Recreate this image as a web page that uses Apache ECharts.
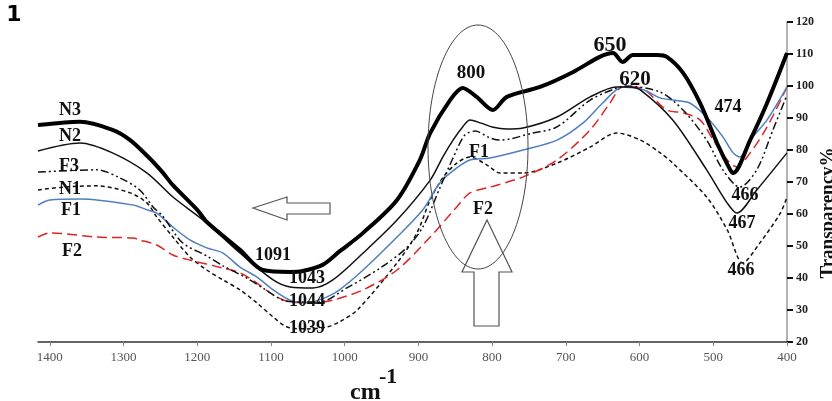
<!DOCTYPE html>
<html><head><meta charset="utf-8">
<script src="https://cdn.jsdelivr.net/npm/echarts@6/dist/echarts.min.js"></script>
<style>html,body{margin:0;padding:0;background:#fff}#c{width:832px;height:401px}</style>
</head><body><div id="c"></div>
<script>
// wavenumber ticks (cm-1) and transparency range
const xTicks = [1400,1300,1200,1100,1000,900,800,700,600,500,400];
const yTicks = [20,30,40,50,60,70,80,90,100,110,120];

// [wavenumber, transparency %]
const n3 = [[1416,87.8],[1380,88.6],[1359,88.8],[1315,86.3],[1291,83.1],[1265,77.5],[1247,73],[1233,69],[1200,61.3],[1187,57.5],[1142,48.8],[1111,42.5],[1074,41.9],[1057,42.2],[1030,44.1],[1007,48.3],[975,54.1],[929,64.4],[898,76.9],[884,85.3],[857,95.6],[840,99.4],[821,96.6],[799,92.5],[780,96.6],[735,99.7],[690,104.4],[654,109.1],[636,110.3],[623,107.5],[609,109.7],[576,109.7],[563,109.1],[541,104.1],[518,94.7],[495,82.2],[477,73.8],[473,72.8],[450,83.1],[427,94.7],[400,110.3]];
const n2 = [[1416,79.7],[1359,82.2],[1315,79.1],[1268,72.8],[1233,65.3],[1187,57.2],[1142,47.8],[1097,39.4],[1074,37.2],[1043,36.9],[1016,39.4],[975,47.8],[929,58.1],[884,70.6],[867,77.8],[853,83.1],[840,87.2],[830,89.4],[815,88.4],[800,87.2],[780,86.6],[758,86.9],[712,90.3],[667,96.6],[631,99.7],[613,99.7],[599,98.8],[555,89.4],[509,73.8],[481,63.4],[468,60.3],[441,67.5],[400,79.1]];
const f3 = [[1416,73.1],[1336,73.8],[1305,71.3],[1278,67.5],[1260,62.2],[1247,59.4],[1220,51],[1187,46.9],[1165,43.8],[1133,40],[1111,36.9],[1084,33.1],[1060,32.5],[1034,32.5],[997,36.9],[952,43.1],[916,49.4],[894,55.9],[871,68.1],[853,77.5],[837,84.7],[823,85.9],[803,83.8],[789,83.1],[745,85.3],[712,87.2],[667,95.6],[631,99.4],[620,100],[572,98.1],[541,92.5],[509,83.1],[487,73.8],[464,68.4],[441,73.8],[419,86.3],[400,97.2]];
const n1 = [[1416,67.5],[1382,68.4],[1336,68.8],[1291,66.6],[1268,63.4],[1255,59.1],[1233,52.8],[1210,46.6],[1187,42.5],[1165,39.4],[1142,36.3],[1119,32.2],[1097,27.8],[1078,24.7],[1051,24.1],[1024,24.7],[1007,26.3],[983,30],[929,44.7],[902,54.1],[884,64.4],[867,71.3],[848,75.9],[830,77.8],[807,75.3],[789,72.8],[758,72.8],[712,75.9],[667,80.9],[631,85.3],[599,83.1],[572,79.1],[555,75.9],[509,65.3],[481,55],[460,44.7],[437,50.9],[409,60.3],[400,65.3]];
const f1 = [[1416,62.8],[1400,64.4],[1359,64.7],[1287,62.8],[1268,61.3],[1255,60.3],[1233,55.9],[1210,51.9],[1187,49.4],[1165,47.8],[1142,43.4],[1119,40.3],[1097,36.3],[1074,33.1],[1051,32.2],[1024,34.1],[1007,36.3],[975,42.5],[929,52.8],[894,61.3],[871,69.7],[848,74.4],[830,76.9],[803,77.5],[758,80],[712,83.1],[677,88.4],[650,94.7],[623,99.7],[595,98.8],[572,96.3],[555,95.6],[532,94.7],[509,90.3],[487,84.1],[473,79.1],[464,77.8],[450,83.1],[427,89.4],[400,99.7]];
const f2 = [[1416,52.8],[1400,54.1],[1336,52.8],[1287,52.5],[1278,51.9],[1255,50.3],[1233,47.2],[1210,45.6],[1165,43.1],[1142,41.6],[1119,38.4],[1097,34.7],[1074,32.5],[1043,32.2],[1016,33.1],[975,36.3],[929,42.5],[884,52.8],[848,62.2],[830,66.6],[803,68.4],[758,71.6],[712,76.9],[667,86.3],[640,94.7],[623,99.7],[599,99.4],[563,92.5],[541,91.6],[518,89.4],[500,83.1],[481,76.9],[468,74.7],[450,79.1],[427,87.2],[400,99.7]];

const SERIF = '"Liberation Serif","Times New Roman",serif';
const chart = echarts.init(document.getElementById('c'), null, {renderer:'canvas'});

function line(name, data, color, width, type) {
  return {name, type:'line', data, showSymbol:false, smooth:0.3, silent:true,
    lineStyle:{color, width, type}};
}
function txt(text, x, y, size, extra) {
  return Object.assign({type:'text', x, y, z:100, style:{text, font:'bold '+size+'px '+SERIF, fill:'#111',
    align:'center', verticalAlign:'middle', textAlign:'center', textVerticalAlign:'middle'}}, extra||{});
}

chart.setOption({
  animation:false,
  backgroundColor:'#fff',
  grid:{left:38, right:45, top:22, bottom:59, containLabel:false},
  xAxis:{type:'value', inverse:true, min:400, max:1416,
    axisLine:{show:true, lineStyle:{color:'#333', width:1.5}},
    axisTick:{show:true, length:4, customValues:xTicks, lineStyle:{color:'#888'}},
    axisLabel:{customValues:xTicks, formatter:v => String(v), color:'#555', fontFamily:SERIF, fontSize:13, margin:9},
    splitLine:{show:false}},
  yAxis:{type:'value', position:'right', min:yTicks[0], max:yTicks[yTicks.length-1], interval:10,
    axisLine:{show:true, lineStyle:{color:'#999', width:1.5}},
    axisTick:{show:true, length:6, lineStyle:{color:'#111', width:2}},
    axisLabel:{color:'#222', fontFamily:SERIF, fontSize:12, fontWeight:'bold', margin:9},
    splitLine:{show:false}},
  series:[
    line('N1', n1, '#111', 1.5, [4,3]),
    line('F2', f2, '#e02424', 1.5, [10,5]),
    line('F1', f1, '#4f7fbf', 1.5, 'solid'),
    line('F3', f3, '#111', 1.5, [8,3,2,3,2,3]),
    line('N2', n2, '#111', 1.5, 'solid'),
    line('N3', n3, '#000', 4, 'solid')
  ],
  graphic:[
    {type:'ellipse', shape:{cx:478, cy:147, rx:50, ry:122}, z:90, style:{fill:'none', stroke:'#444', lineWidth:1}},
    {type:'polygon', shape:{points:[[487,220],[512,272],[499,272],[499,326],[474,326],[474,272],[462,272]]}, z:90,
      style:{fill:'none', stroke:'#555', lineWidth:1.2}},
    {type:'polygon', shape:{points:[[253,208],[287,197],[287,203],[330,203],[330,214],[287,214],[287,220]]}, z:90,
      style:{fill:'none', stroke:'#555', lineWidth:1.2}},
    {type:'text', x:14, y:15, z:100, style:{text:'1', font:'900 22px "DejaVu Sans",sans-serif', fill:'#000',
      align:'center', verticalAlign:'middle', textAlign:'center', textVerticalAlign:'middle'}},
    txt('N3', 70, 110, 18), txt('N2', 70, 136, 18), txt('F3', 69, 166, 18), txt('N1', 70, 189, 18),
    txt('F1', 71, 210, 18), txt('F2', 72, 251, 18),
    txt('1091', 273, 255, 18), txt('1043', 307, 278, 18), txt('1044', 307, 301, 18), txt('1039', 307, 328, 18),
    txt('800', 471, 73, 19), txt('650', 610, 45, 22), txt('620', 635, 80, 21), txt('474', 728, 107, 18),
    txt('F1', 479, 152, 18), txt('F2', 483, 209, 18),
    txt('466', 745, 195, 18), txt('467', 742, 223, 18), txt('466', 741, 270, 18),
    txt('Transparency%', 828, 213, 19, {rotation:Math.PI/2}),
    {type:'text', x:350, y:393, z:100, style:{text:'cm', font:'bold 24px '+SERIF, fill:'#111',
      align:'left', verticalAlign:'middle', textAlign:'left', textVerticalAlign:'middle'}},
    {type:'text', x:379, y:377, z:100, style:{text:'-1', font:'bold 22px '+SERIF, fill:'#111',
      align:'left', verticalAlign:'middle', textAlign:'left', textVerticalAlign:'middle'}}
  ]
});
</script></body></html>
